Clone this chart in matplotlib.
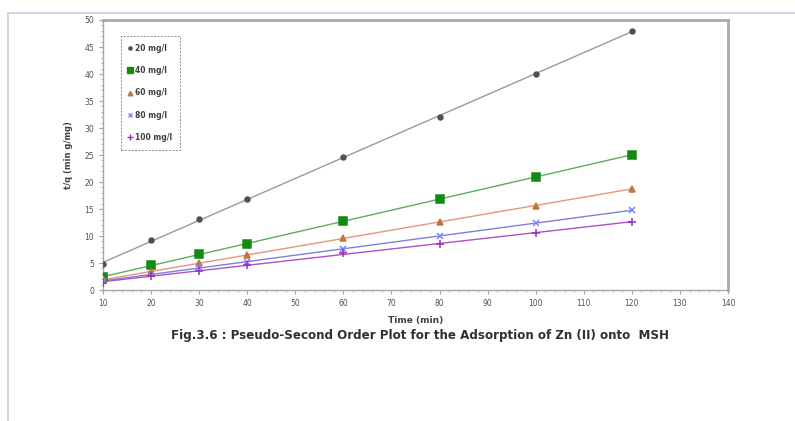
import numpy as np
import matplotlib.pyplot as plt
from matplotlib.lines import Line2D
from matplotlib.ticker import MultipleLocator

time_min = [10, 20, 30, 40, 60, 80, 100, 120]
series_labels = ['20 mg/l', '40 mg/l', '60 mg/l', '80 mg/l', '100 mg/l']
t_over_q = [
    [4.8, 9.2, 13.2, 16.8, 24.6, 32.0, 40.0, 48.0],
    [2.4, 4.6, 6.6, 8.6, 12.8, 16.8, 21.0, 25.0],
    [2.0, 3.4, 5.0, 6.4, 9.6, 12.6, 15.6, 18.8],
    [1.6, 3.0, 4.2, 5.2, 7.6, 10.0, 12.4, 14.8],
    [1.4, 2.6, 3.6, 4.6, 6.8, 8.6, 10.6, 12.6],
]

line_colors = ['#9a9a9a', '#5cae5c', '#e8967a', '#7f7fdf', '#b050c8']
marker_colors = ['#505050', '#138a13', '#c07840', '#8080ff', '#9a2cbc']
markers = ['o', 's', '^', 'x', '+']
marker_sizes = [3.5, 5.5, 4.5, 4.5, 5.5]

fig = plt.figure(figsize=(7.95, 4.21), dpi=100)
ax = fig.add_axes([0.1296, 0.311, 0.7861, 0.6415])

x = np.array(time_min)
for i, label in enumerate(series_labels):
    y = np.array(t_over_q[i])
    # straight fit line through the points
    k, b = np.polyfit(x, y, 1)
    ax.plot(x, k * x + b, color=line_colors[i], lw=1.0, zorder=2)
    ax.plot(x, y, linestyle='none', marker=markers[i], ms=marker_sizes[i],
            color=marker_colors[i], mec=marker_colors[i], mew=1.1, zorder=3)

ax.set_xlim(10, 140)
ax.set_ylim(0, 50)
ax.xaxis.set_major_locator(MultipleLocator(10))
ax.yaxis.set_major_locator(MultipleLocator(5))
ax.xaxis.set_minor_locator(MultipleLocator(2))
ax.yaxis.set_minor_locator(MultipleLocator(1))
ax.tick_params(which='both', direction='out', colors='#a0a0a0', labelcolor='#505050',
               labelsize=5.5)
ax.tick_params(which='major', length=3)
ax.tick_params(which='minor', length=1.5)
for side in ax.spines.values():
    side.set_color('#a8a8a8')
    side.set_linewidth(1.0)
ax.spines['top'].set_linewidth(2.0)
ax.spines['right'].set_linewidth(2.0)

ax.set_xlabel('Time (min)', fontsize=6.5, fontweight='bold', color='#404040', labelpad=6)
ax.set_ylabel('t/q (min g/mg)', fontsize=6, fontweight='bold', color='#404040', labelpad=8)

handles = [Line2D([], [], linestyle='none', marker=markers[i], ms=marker_sizes[i] - 1.2,
                  color=marker_colors[i], mew=1.0) for i in range(len(series_labels))]
leg = ax.legend(handles, series_labels, loc='upper left', bbox_to_anchor=(0.022, 0.955),
                frameon=True, fancybox=False, handlelength=0.5, handletextpad=0.4,
                labelspacing=1.75, borderpad=1.0, prop={'size': 5.5, 'weight': 'bold'})
leg.get_frame().set_edgecolor('#707070')
leg.get_frame().set_linestyle((0, (2, 1.5)))
leg.get_frame().set_linewidth(0.7)
for t in leg.get_texts():
    t.set_color('#404040')

fig.text(0.528, 0.204,
         'Fig.3.6 : Pseudo-Second Order Plot for the Adsorption of Zn (II) onto  MSH',
         ha='center', va='center', fontsize=8.6, fontweight='bold', color='#303030')

# page frame lines along the top and left edge
fig.add_artist(Line2D([8 / 795, 1.0], [1 - 13 / 421, 1 - 13 / 421],
                      transform=fig.transFigure, color='#c8cce0', lw=1.2))
fig.add_artist(Line2D([8 / 795, 8 / 795], [0, 1 - 13 / 421],
                      transform=fig.transFigure, color='#c8cce0', lw=1.2))

fig.savefig('out.png', dpi=100)
